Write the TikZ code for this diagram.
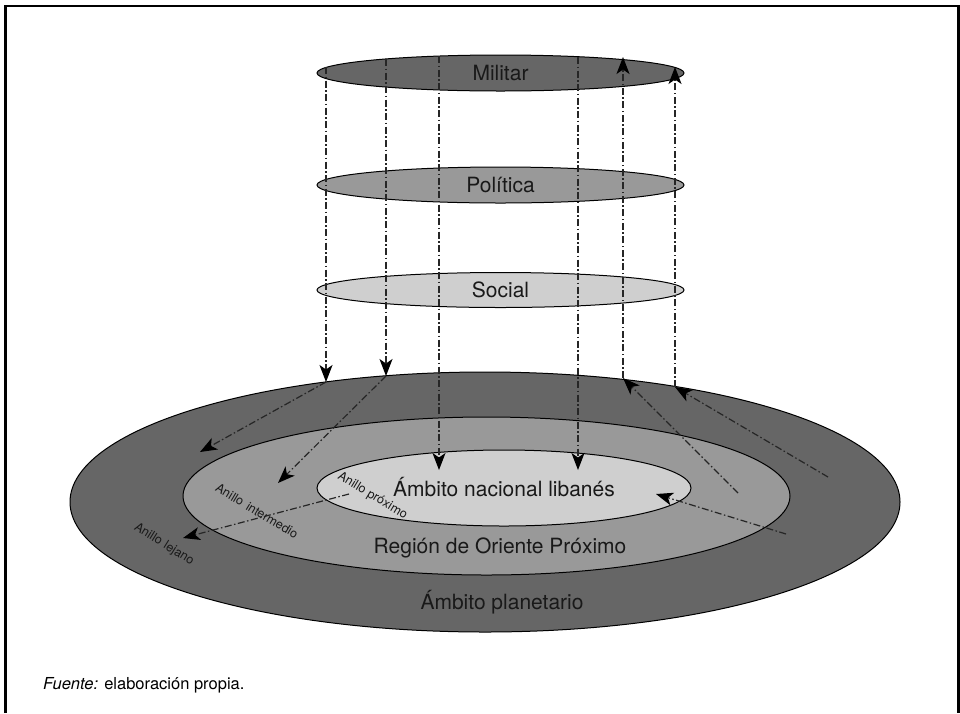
\documentclass[tikz,border=0pt]{standalone}
\usepackage{fontspec}
\setmainfont{TeX Gyre Heros}
\usetikzlibrary{shapes.geometric,arrows.meta}
\definecolor{dk}{HTML}{666666}
\definecolor{md}{HTML}{999999}
\definecolor{lt}{HTML}{CFCFCF}
\begin{document}
\begin{tikzpicture}[x=1pt,y=-1pt,
  ring/.style={ellipse,draw=black,line width=1pt,inner sep=0pt},
  lbl/.style={font=\fontsize{21}{24}\selectfont,text=black!90},
  small/.style={font=\fontsize{12.5}{14}\selectfont,text=black!90,inner sep=0pt},
  flow/.style={draw=black!85,line width=1.2pt,dash pattern=on 7pt off 2.5pt on 1.5pt off 2.5pt},
  tip/.style={-{Stealth[length=17pt,width=13pt,inset=4.5pt,color=black]}}
]
\useasboundingbox (0,0) rectangle (960,713);
\draw[line width=2.6pt] (5.5,713) -- (5.5,6) -- (958.5,6) -- (958.5,713);

% ground rings
\node[ring,fill=dk,minimum width=830pt,minimum height=260pt] (planet) at (485,502) {};
\node[ring,fill=md,minimum width=607pt,minimum height=158pt] (region) at (486.5,496) {};
\node[ring,fill=lt,minimum width=374pt,minimum height=76pt] (nacional) at (504,488) {};

% layers
\node[ring,lbl,fill=dk,minimum width=367pt,minimum height=36pt] (militar) at (500.5,73) {Militar};
\node[ring,lbl,fill=md,minimum width=367pt,minimum height=36pt] (politica) at (500.5,185) {Política};
\node[ring,lbl,fill=lt,minimum width=367pt,minimum height=35pt] (social) at (500.5,290) {Social};

% labels
\node[lbl] (tnac) at (504,487) {Ámbito nacional libanés};
\node[lbl] (treg) at (500,548) {Región de Oriente Próximo};
\node[lbl] (tpla) at (502,602) {Ámbito planetario};
\node[small,rotate=-31] (lprox) at (372.5,496) {Anillo próximo};
\node[small,rotate=-31] (linter) at (257,511) {Anillo\hspace{5pt}intermedio};
\node[small,rotate=-32] (lleja) at (164,544.5) {Anillo\hspace{4pt}lejano};

% connector points
\coordinate (a1) at (326,67);  \coordinate (b1) at (326,382); \coordinate (c1) at (200,452);
\coordinate (a2) at (386,59);  \coordinate (b2) at (386,376); \coordinate (c2) at (278,483);
\coordinate (a3) at (439,56);  \coordinate (b3) at (439,470);
\coordinate (a4) at (578,57);  \coordinate (b4) at (578,470);
\coordinate (a5) at (623,57);  \coordinate (b5) at (623,378); \coordinate (c5) at (738,493);
\coordinate (a6) at (675,67);  \coordinate (b6) at (675,387); \coordinate (c6) at (828,477);
\coordinate (p1) at (786,534); \coordinate (p2) at (656,494);
\coordinate (q1) at (349,494); \coordinate (q2) at (183,538);

\draw[flow,tip] (a1) -- (b1);
\draw[flow,tip] (b1) -- (c1);
\draw[flow,tip] (a2) -- (b2);
\draw[flow,tip] (b2) -- (c2);
\draw[flow,tip] (a3) -- (b3);
\draw[flow,tip] (a4) -- (b4);
\draw[flow,tip] (b5) -- (a5);
\draw[flow,tip] (c5) -- (b5);
\draw[flow,tip] (b6) -- (a6);
\draw[flow,tip] (c6) -- (b6);
\draw[flow,tip] (p1) -- (p2);
\draw[flow,tip] (q1) -- (q2);

\node[anchor=west,font=\fontsize{16.5}{19}\selectfont,inner sep=0pt] (src) at (43,685) {\textit{Fuente:} elaboración propia.};
\end{tikzpicture}
\end{document}
